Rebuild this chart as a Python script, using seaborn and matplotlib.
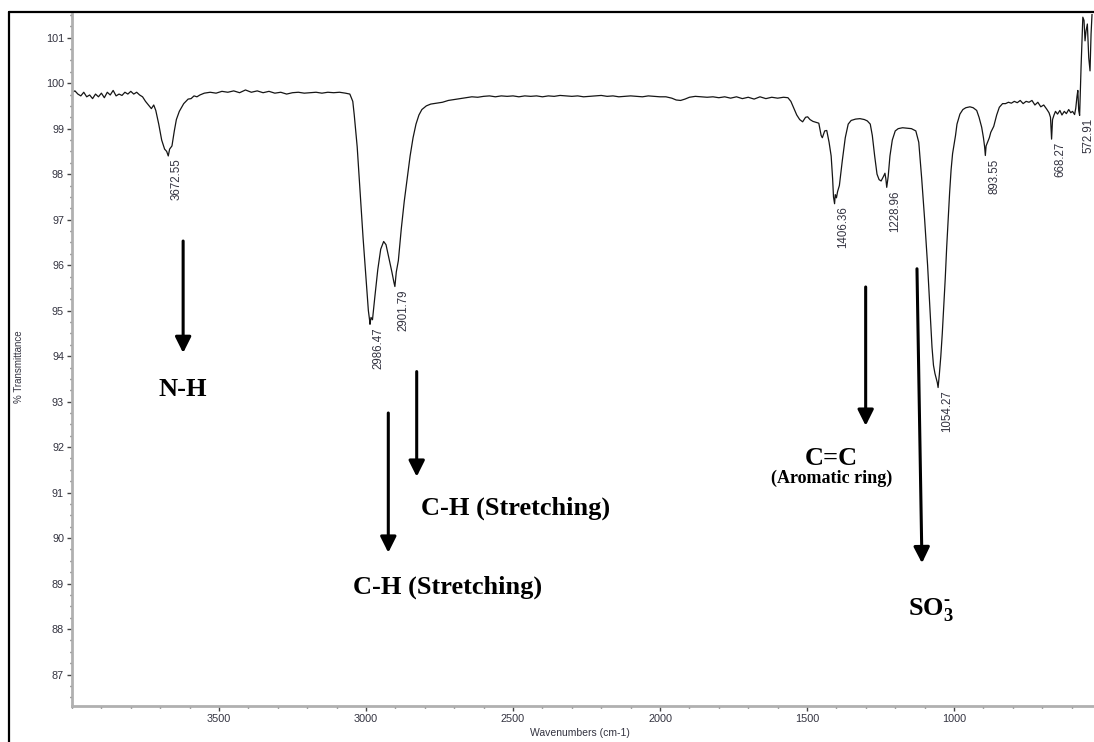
import numpy as np
import pandas as pd
import matplotlib
matplotlib.use("Agg")
import matplotlib.pyplot as plt
from matplotlib.lines import Line2D
from matplotlib.ticker import MultipleLocator, FixedLocator
import seaborn as sns

# FTIR spectrum: wavenumber (cm-1) and % transmittance
wavenumber = [
    4000, 3990, 3980, 3970, 3960, 3950, 3940, 3930, 3920, 3910, 3900, 3890,
    3880, 3870, 3860, 3850, 3840, 3830, 3820, 3810, 3800, 3790, 3780, 3770,
    3760, 3750, 3740, 3730, 3722, 3715, 3705, 3695, 3685, 3678, 3672.55, 3668,
    3660, 3652, 3645, 3635, 3620, 3605, 3595, 3585, 3575, 3565, 3550, 3530,
    3510, 3490, 3470, 3450, 3430, 3410, 3390, 3370, 3350, 3330, 3310, 3290,
    3270, 3250, 3230, 3210, 3190, 3170, 3150, 3130, 3110, 3090, 3070, 3055,
    3045, 3040, 3030, 3020, 3010, 3000, 2992, 2988, 2986.47, 2983, 2978, 2970,
    2960, 2950, 2940, 2932, 2922, 2912, 2905, 2901.79, 2897, 2890, 2880, 2870,
    2860, 2850, 2840, 2830, 2820, 2810, 2795, 2780, 2760, 2740, 2720, 2700,
    2680, 2660, 2640, 2620, 2600, 2580, 2560, 2540, 2520, 2500, 2480, 2460,
    2440, 2420, 2400, 2380, 2360, 2340, 2320, 2300, 2280, 2260, 2240, 2220,
    2200, 2180, 2160, 2140, 2120, 2100, 2080, 2060, 2040, 2020, 2000, 1980,
    1960, 1945, 1930, 1915, 1900, 1880, 1860, 1840, 1820, 1800, 1780, 1760,
    1740, 1720, 1700, 1680, 1660, 1640, 1620, 1600, 1580, 1565, 1555, 1545,
    1535, 1525, 1515, 1505, 1498, 1490, 1480, 1470, 1460, 1452, 1448, 1440,
    1433, 1425, 1418, 1413, 1410, 1406.36, 1404, 1400, 1396, 1390, 1380, 1370,
    1360, 1350, 1335, 1320, 1305, 1295, 1285, 1278, 1270, 1262, 1255, 1248,
    1240, 1235, 1232, 1228.96, 1224, 1218, 1210, 1200, 1190, 1175, 1160, 1145,
    1130, 1120, 1110, 1100, 1090, 1085, 1080, 1075, 1070, 1065, 1060, 1057,
    1054.27, 1050, 1045, 1040, 1035, 1030, 1025, 1020, 1015, 1010, 1005, 1000,
    995, 990, 980, 970, 960, 946, 935, 923, 915, 906, 900, 896,
    893.55, 891, 886, 880, 875, 865, 855, 846, 835, 825, 815, 805,
    795, 785, 775, 765, 755, 745, 735, 725, 715, 705, 695, 685,
    677, 672, 668.27, 665, 660, 655, 648, 640, 633, 625, 618, 610,
    603, 597, 590, 586, 582, 579, 576, 572.91, 568, 562, 558, 554.5,
    551, 546.6, 541.9, 537.5, 534, 530.7,
]
transmittance = [
    99.80, 99.83, 99.76, 99.72, 99.80, 99.70, 99.74, 99.66, 99.76, 99.70, 99.78, 99.68,
    99.80, 99.74, 99.84, 99.72, 99.76, 99.73, 99.80, 99.76, 99.82, 99.76, 99.80, 99.74,
    99.70, 99.60, 99.52, 99.44, 99.52, 99.40, 99.10, 98.75, 98.55, 98.50, 98.40, 98.55,
    98.62, 98.95, 99.20, 99.38, 99.55, 99.65, 99.66, 99.72, 99.70, 99.74, 99.78, 99.80,
    99.78, 99.82, 99.80, 99.83, 99.79, 99.85, 99.80, 99.83, 99.79, 99.82, 99.78, 99.80,
    99.76, 99.79, 99.80, 99.78, 99.79, 99.80, 99.78, 99.80, 99.79, 99.80, 99.78, 99.76,
    99.60, 99.30, 98.60, 97.60, 96.60, 95.70, 95.00, 94.80, 94.70, 94.85, 94.80, 95.30,
    95.90, 96.35, 96.52, 96.45, 96.15, 95.85, 95.62, 95.53, 95.85, 96.10, 96.80, 97.40,
    97.90, 98.40, 98.80, 99.10, 99.30, 99.42, 99.50, 99.54, 99.56, 99.58, 99.62, 99.64,
    99.66, 99.68, 99.70, 99.69, 99.71, 99.72, 99.70, 99.72, 99.71, 99.72, 99.70, 99.72,
    99.71, 99.72, 99.70, 99.72, 99.71, 99.73, 99.72, 99.71, 99.72, 99.70, 99.71, 99.72,
    99.73, 99.71, 99.72, 99.70, 99.71, 99.72, 99.71, 99.70, 99.72, 99.71, 99.70, 99.70,
    99.67, 99.63, 99.62, 99.65, 99.69, 99.71, 99.70, 99.69, 99.70, 99.68, 99.70, 99.67,
    99.70, 99.66, 99.69, 99.65, 99.70, 99.66, 99.69, 99.67, 99.69, 99.68, 99.60, 99.45,
    99.30, 99.20, 99.15, 99.25, 99.26, 99.20, 99.16, 99.14, 99.12, 98.85, 98.80, 98.95,
    98.96, 98.70, 98.40, 97.90, 97.50, 97.35, 97.55, 97.48, 97.62, 97.75, 98.30, 98.80,
    99.10, 99.18, 99.21, 99.22, 99.20, 99.17, 99.10, 98.85, 98.40, 98.00, 97.88, 97.85,
    97.95, 98.02, 97.90, 97.71, 97.95, 98.40, 98.75, 98.95, 99.00, 99.02, 99.01, 99.00,
    98.95, 98.70, 97.90, 97.00, 96.00, 95.40, 94.80, 94.20, 93.80, 93.62, 93.50, 93.42,
    93.31, 93.60, 94.00, 94.50, 95.10, 95.70, 96.40, 97.00, 97.60, 98.10, 98.45, 98.65,
    98.85, 99.10, 99.32, 99.42, 99.46, 99.48, 99.46, 99.40, 99.25, 99.03, 98.80, 98.60,
    98.41, 98.62, 98.70, 98.80, 98.92, 99.05, 99.30, 99.47, 99.55, 99.55, 99.58, 99.56,
    99.60, 99.57, 99.62, 99.55, 99.60, 99.58, 99.62, 99.52, 99.58, 99.48, 99.52, 99.43,
    99.35, 99.25, 98.77, 99.20, 99.30, 99.38, 99.32, 99.40, 99.30, 99.38, 99.33, 99.42,
    99.35, 99.38, 99.31, 99.45, 99.70, 99.84, 99.40, 99.29, 100.35, 101.45, 101.38, 100.93,
    101.15, 101.30, 100.56, 100.27, 101.08, 101.52,
]

# Labelled absorption bands (cm-1)
peak_wavenumbers = [3672.55, 2986.47, 2901.79, 1406.36, 1228.96, 1054.27, 893.55, 668.27, 572.91]

# Labelled wavenumber ticks
x_ticks = [3500, 3000, 2500, 2000, 1500, 1000]

spectrum = pd.DataFrame({"wavenumber": wavenumber, "transmittance": transmittance})

W, H = 1094, 742
fig = plt.figure(figsize=(W / 100, H / 100), dpi=100)
sns.set_theme(style="white")
plt.rcParams["font.family"] = ["Liberation Sans", "DejaVu Sans"]
plt.rcParams["mathtext.fontset"] = "custom"
plt.rcParams["mathtext.rm"] = "Liberation Serif:bold"
plt.rcParams["mathtext.bf"] = "Liberation Serif:bold"
plt.rcParams["mathtext.it"] = "Liberation Serif:bold"

ax = fig.add_axes([71.7 / W, 1 - 706 / H, 1 - 71.7 / W, (706 - 14) / H])
ax.set_facecolor("white")

sns.lineplot(data=spectrum, x="wavenumber", y="transmittance", ax=ax,
             color="#151515", lw=0.9, estimator=None, sort=False)

ax.set_xlim(4001, 524)
ax.set_ylim(86.31, 101.52)

# Axis styling: grey left/bottom spines, short outward ticks
for side in ("top", "right"):
    ax.spines[side].set_visible(False)
for side in ("left", "bottom"):
    ax.spines[side].set_color("#b0b0b0")
    ax.spines[side].set_linewidth(2.0)

tick_color = "#333340"
ax.xaxis.set_major_locator(FixedLocator(x_ticks))
ax.xaxis.set_minor_locator(MultipleLocator(100))
ax.yaxis.set_major_locator(MultipleLocator(1))
ax.yaxis.set_minor_locator(MultipleLocator(0.25))
ax.tick_params(axis="both", which="major", direction="out", length=3.5, width=1,
               color="#444444", labelsize=7.8, labelcolor=tick_color, pad=2,
               bottom=True, left=True)
ax.tick_params(axis="both", which="minor", direction="out", length=1.5, width=1,
               color="#444444", bottom=True, left=True)

ax.set_xlabel("Wavenumbers (cm-1)", fontsize=7.5, color=tick_color)
ax.set_ylabel("% Transmittance", fontsize=7.0, color=tick_color)
ax.xaxis.set_label_coords(0.497, -0.032)
ax.yaxis.set_label_coords(-0.0516, 0.49)
ax.yaxis.label.set_va("center")

# Peak position labels, rotated, just below each band minimum
wn_asc = np.array(wavenumber)[::-1]
t_asc = np.array(transmittance)[::-1]
for pk in peak_wavenumbers:
    t_pk = float(np.interp(pk, wn_asc, t_asc))
    ax.annotate(f"{pk:.2f}", xy=(pk, t_pk), xytext=(2, -2),
                textcoords="offset points", rotation=90, ha="left", va="top",
                fontsize=8.3, color=tick_color)

# Band assignments with arrows
arrow_kw = dict(arrowstyle="-|>", lw=2.2, color="black", mutation_scale=24,
                shrinkA=0, shrinkB=0)
arrows = [
    ((3622, 96.53), (3622, 94.07)),
    ((2827.6, 93.66), (2827.6, 91.35)),
    ((2924.2, 92.75), (2924.2, 89.68)),
    ((1300.6, 95.52), (1300.6, 92.47)),
    ((1126.1, 95.92), (1109.1, 89.45)),
]
for start, tip in arrows:
    ax.annotate("", xy=tip, xytext=start, arrowprops=arrow_kw)

label_font = dict(family=["Liberation Serif", "DejaVu Serif"], weight="bold",
                  color="black", ha="center", va="baseline")
ax.text(3622, 93.13, "N-H", fontsize=19, **label_font)
ax.text(2489.9, 90.51, "C-H (Stretching)", fontsize=19, **label_font)
ax.text(2723.5, 88.79, "C-H (Stretching)", fontsize=19, **label_font)
ax.text(1416.2, 91.61, "C=C", fontsize=19, **label_font)
ax.text(1415.0, 91.22, "(Aromatic ring)", fontsize=13, **label_font)
ax.text(1078.0, 88.31, r"$\mathbf{SO}_\mathbf{3}^{\text{-}}$", fontsize=19, **label_font)

# Outer frame lines along the top and left of the figure
fig.add_artist(Line2D([9 / W, 9 / W], [0, 1 - 12 / H], color="black", lw=1.6,
                      transform=fig.transFigure))
fig.add_artist(Line2D([9 / W, 1], [1 - 12 / H, 1 - 12 / H], color="black", lw=1.6,
                      transform=fig.transFigure))

fig.savefig("out.png", dpi=100)
